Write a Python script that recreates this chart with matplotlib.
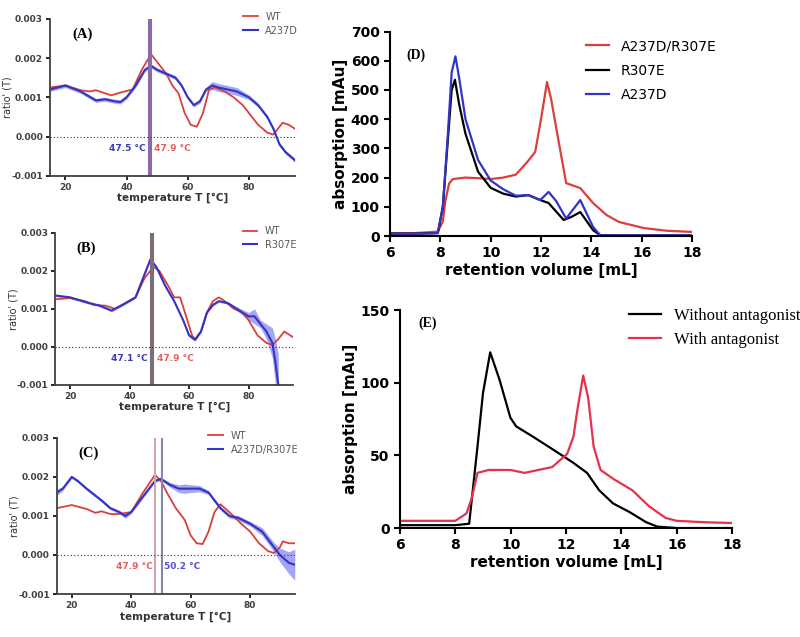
import matplotlib
matplotlib.use("Agg")
import matplotlib.pyplot as plt

# ---- thermal unfolding (ratio' vs temperature) ----
# panel A: WT vs A237D
a_wt_t = [15, 20, 25, 28, 30, 35, 38, 42, 45, 48, 50, 53, 55, 57, 59, 61, 63, 65, 67, 69, 72, 75, 78, 80, 83, 86, 88, 90, 91, 93, 95]
a_wt_r = [0.00125, 0.0013, 0.00118, 0.00115, 0.00118, 0.00105, 0.00112, 0.0012, 0.0017, 0.0021, 0.0019, 0.0016, 0.0013, 0.0011,
          0.0006, 0.0003, 0.00025, 0.0006, 0.0012, 0.00125, 0.00115, 0.001, 0.0008, 0.0006, 0.0003, 0.0001, 0.00005, 0.00025,
          0.00035, 0.0003, 0.0002]
a_mut_t = [15, 20, 25, 30, 33, 36, 38, 40, 43, 46, 48, 50, 53, 56, 58, 60, 62, 64, 66, 68, 70, 73, 76, 80, 83, 86, 88, 90, 92, 95]
a_mut_r = [0.0012, 0.0013, 0.00115, 0.00092, 0.00095, 0.0009, 0.00088, 0.001, 0.0013, 0.0017, 0.0018, 0.0017, 0.0016, 0.0015,
           0.0013, 0.001, 0.0008, 0.0009, 0.0012, 0.0013, 0.00125, 0.0012, 0.00115, 0.001, 0.0008, 0.0005, 0.0002, -0.0002,
           -0.0004, -0.0006]
a_mut_err = [0.00005] * 19 + [0.0001, 0.0001, 0.0001, 0.0001, 0.00006, 0.00005, 0.00005, 0.00005, 0.00005, 0.00005, 0.00005]

# panel B: WT vs R307E
b_wt_t = [15, 20, 25, 28, 32, 35, 38, 42, 45, 48, 50, 53, 55, 57, 59, 61, 62, 64, 66, 68, 70, 72, 75, 78, 80, 83, 86, 88, 90, 92, 95]
b_wt_r = [0.00125, 0.00128, 0.0012, 0.0011, 0.00108, 0.001, 0.00112, 0.0013, 0.0018, 0.0021, 0.002, 0.0016, 0.0013, 0.0013,
          0.0008, 0.0003, 0.0002, 0.0004, 0.0009, 0.0012, 0.0013, 0.0012, 0.001, 0.0009, 0.0007, 0.0003, 0.0001, 0.00005,
          0.0002, 0.0004, 0.00025]
b_mut_t = [15, 20, 25, 30, 34, 38, 42, 45, 47, 49, 52, 55, 58, 60, 62, 64, 66, 68, 70, 73, 76, 80, 82, 84, 86, 88, 89, 90]
b_mut_r = [0.00135, 0.0013, 0.00118, 0.00108, 0.00095, 0.00112, 0.0013, 0.0019, 0.0023, 0.0021, 0.0016, 0.0012, 0.0007,
           0.0003, 0.00018, 0.0004, 0.0009, 0.0011, 0.0012, 0.00115, 0.001, 0.0008, 0.0008, 0.0006, 0.0004, 0.0001,
           -0.0004, -0.001]
b_mut_err = [0.00003] * 20 + [0.00005, 0.0001, 0.0002, 0.0001, 0.0002, 0.0004, 0.0006, 0.0008]

# panel C: WT vs A237D/R307E
c_wt_t = [15, 20, 25, 28, 30, 33, 36, 40, 44, 48, 50, 52, 55, 58, 60, 62, 64, 66, 68, 70, 73, 77, 80, 83, 86, 88, 90, 91, 93, 95]
c_wt_r = [0.0012, 0.00128, 0.00118, 0.00108, 0.00112, 0.00105, 0.00105, 0.0011, 0.0016, 0.00205, 0.0019, 0.0016, 0.0012,
          0.0009, 0.0005, 0.0003, 0.00028, 0.0006, 0.0011, 0.0013, 0.0011, 0.0008, 0.0006, 0.0003, 0.0001, 0.00005, 0.0002,
          0.00035, 0.0003, 0.0003]
c_mut_t = [15, 17, 20, 22, 25, 30, 33, 36, 38, 40, 43, 46, 48, 50, 53, 56, 58, 60, 63, 66, 70, 73, 76, 80, 84, 88, 90, 93, 95]
c_mut_r = [0.0016, 0.0017, 0.002, 0.0019, 0.0017, 0.0014, 0.0012, 0.0011, 0.001, 0.0011, 0.0014, 0.0017, 0.0019, 0.00195,
           0.0018, 0.0017, 0.0017, 0.0017, 0.0017, 0.0016, 0.0012, 0.001, 0.00095, 0.0008, 0.0006, 0.0002, 0.0, -0.0002,
           -0.00025]
c_mut_err = [0.00008, 0.00005, 0.00004, 0.00004, 0.00004, 0.00004, 0.00004, 0.00004, 0.00006, 0.00004, 0.00004, 0.00004,
             0.00004, 0.00004, 0.00006, 0.0001, 0.00012, 0.0001, 0.00008, 0.00005, 0.00005, 0.00005, 0.00006, 0.00006,
             0.0001, 0.00012, 0.00018, 0.00028, 0.0004]

thermo_panels = [
    ("(A)", "A237D", a_wt_t, a_wt_r, a_mut_t, a_mut_r, a_mut_err, [47.5, 47.9], ["#8a6aa8", "#8a6aa8"], "47.5 °C", "47.9 °C"),
    ("(B)", "R307E", b_wt_t, b_wt_r, b_mut_t, b_mut_r, b_mut_err, [47.1, 47.9], ["#7d6d7a", "#7d6d7a"], "47.1 °C", "47.9 °C"),
    ("(C)", "A237D/R307E", c_wt_t, c_wt_r, c_mut_t, c_mut_r, c_mut_err, [47.9, 50.2], ["#d2a4a8", "#8486a8"], "50.2 °C", "47.9 °C"),
]

# ---- size exclusion chromatograms ----
d_vol_dr = [6, 7, 7.9, 8.1, 8.2, 8.35, 8.5, 9, 9.5, 10, 10.5, 11, 11.45, 11.77, 12.0, 12.24, 12.4, 12.64, 13.0, 13.56, 14.07,
            14.6, 15.1, 16.1, 17, 18]
d_abs_dr = [10, 10, 15, 50, 120, 180, 195, 200, 198, 195, 200, 210, 253, 288, 400, 527, 470, 353, 181, 164, 113, 72, 48, 27,
            18, 14]
d_vol_r = [6, 7, 7.9, 8.1, 8.3, 8.45, 8.58, 8.75, 9.0, 9.5, 10, 10.5, 11, 11.5, 11.97, 12.3, 12.9, 13.2, 13.56, 14.07, 14.35,
           15, 18]
d_abs_r = [8, 8, 10, 100, 330, 500, 535, 450, 350, 220, 165, 145, 135, 140, 123, 113, 55, 65, 82, 20, 3, 2, 2]
d_vol_a = [6, 7, 7.9, 8.1, 8.3, 8.45, 8.6, 8.75, 9.0, 9.5, 10, 10.5, 11, 11.5, 11.97, 12.3, 12.6, 13.0, 13.56, 14.07, 14.35,
           15, 18]
d_abs_a = [8, 8, 10, 100, 350, 560, 615, 540, 400, 260, 190, 160, 138, 140, 123, 151, 120, 60, 123, 31, 3, 2, 2]

e_vol_free = [6, 8, 8.5, 8.8, 9.0, 9.26, 9.6, 9.99, 10.2, 10.8, 11.7, 12.26, 12.76, 13.2, 13.7, 14.3, 14.9, 15.3, 16, 18]
e_abs_free = [2, 2, 3, 56, 93, 121, 102, 76, 70, 63, 52, 45, 38, 26, 17, 11, 4, 1, 0, 0]
e_vol_ant = [6, 8, 8.4, 8.6, 8.8, 9.2, 10, 10.5, 11, 11.5, 12.04, 12.27, 12.4, 12.62, 12.8, 13.0, 13.25, 13.7, 14.4, 15,
             15.6, 16, 17, 18]
e_abs_ant = [5, 5, 10, 21, 38, 40, 40, 38, 40, 42, 51, 63, 80, 105, 90, 56, 40, 34, 26, 15, 7, 5, 4, 3.5]

RED = "#d9403c"
BLUE = "#3434c4"

fig = plt.figure(figsize=(8, 6.37), dpi=100)

thermo_rects = [
    [0.0625, 0.724, 0.306, 0.2465],
    [0.069, 0.396, 0.2975, 0.2386],
    [0.071, 0.0675, 0.2975, 0.245],
]

for rect, (tag, mut, wt_t, wt_r, mt, mr, merr, vlines, vcols, t_blue, t_red) in zip(thermo_rects, thermo_panels):
    ax = fig.add_axes(rect)
    lo = [r - e for r, e in zip(mr, merr)]
    hi = [r + e for r, e in zip(mr, merr)]
    ax.fill_between(mt, lo, hi, color="#6a6af0", alpha=0.6, lw=0)
    ax.plot(wt_t, wt_r, color=RED, lw=1.3, label="WT", solid_joinstyle="round")
    ax.plot(mt, mr, color=BLUE, lw=1.5, label=mut, solid_joinstyle="round")
    for v, c in zip(vlines, vcols):
        ax.axvline(v, color=c, lw=1.5)
    ax.axhline(0, color="0.2", lw=0.8, ls=(0, (1, 2)))
    if tag == "(C)":
        ax.text(47.3, -0.0003, t_red, color="#e06060", fontsize=6.5, fontweight="bold", ha="right", va="center")
        ax.text(51.2, -0.0003, t_blue, color="#5050d0", fontsize=6.5, fontweight="bold", ha="left", va="center")
    else:
        ax.text(min(vlines) - 1.2, -0.0003, t_blue, color="#3a3ab8", fontsize=6.5, fontweight="bold", ha="right", va="center")
        ax.text(max(vlines) + 1.2, -0.0003, t_red, color="#e06060", fontsize=6.5, fontweight="bold", ha="left", va="center")
    ax.text(0.09, 0.9, tag, transform=ax.transAxes, fontsize=10.5, fontweight="bold", family="Liberation Serif",
            va="center")
    ax.set_xlim(15, 95)
    ax.set_ylim(-0.001, 0.003)
    ax.set_xticks([20, 40, 60, 80])
    ax.set_yticks([-0.001, 0.0, 0.001, 0.002, 0.003])
    ax.set_yticklabels(["-0.001", "0.000", "0.001", "0.002", "0.003"])
    ax.tick_params(labelsize=6.5, width=1.2, length=3, pad=2)
    for lab in ax.get_xticklabels() + ax.get_yticklabels():
        lab.set_fontweight("bold")
        lab.set_color("0.25")
    ax.set_xlabel("temperature T [°C]", fontsize=7.5, fontweight="bold", labelpad=1, color="0.2")
    ax.set_ylabel("ratio' (T)", fontsize=7, color="0.2")
    ax.yaxis.set_label_coords(-0.155, 0.5)
    for side in ("top", "right"):
        ax.spines[side].set_visible(False)
    for side in ("left", "bottom"):
        ax.spines[side].set_linewidth(1.3)
        ax.spines[side].set_color("0.25")
    ax.legend(loc="upper right", bbox_to_anchor=(1.03, 1.07), frameon=False, fontsize=7, handlelength=1.5,
              labelcolor="0.35", borderaxespad=0, labelspacing=0.4)

# panel D
axd = fig.add_axes([0.4875, 0.6295, 0.3775, 0.321])
axd.plot(d_vol_dr, d_abs_dr, color=RED, lw=1.6, label="A237D/R307E", solid_joinstyle="round")
axd.plot(d_vol_r, d_abs_r, color="black", lw=1.6, label="R307E", solid_joinstyle="round")
axd.plot(d_vol_a, d_abs_a, color=BLUE, lw=1.6, label="A237D", solid_joinstyle="round")
axd.set_xlim(6, 18)
axd.set_ylim(0, 700)
axd.set_xticks(range(6, 19, 2))
axd.set_yticks(range(0, 701, 100))
axd.set_xlabel("retention volume [mL]", fontsize=11, fontweight="bold", labelpad=2)
axd.set_ylabel("absorption [mAu]", fontsize=11, fontweight="bold", labelpad=2)
axd.text(0.055, 0.885, "(D)", transform=axd.transAxes, fontsize=10, fontweight="bold", family="Liberation Serif",
         va="center")
axd.legend(loc="upper left", bbox_to_anchor=(0.63, 0.99), frameon=False, fontsize=10, handlelength=1.7,
           borderaxespad=0, labelspacing=0.75)

# panel E
axe = fig.add_axes([0.5, 0.171, 0.415, 0.342])
axe.plot(e_vol_free, e_abs_free, color="black", lw=1.6, label="Without antagonist", solid_joinstyle="round")
axe.plot(e_vol_ant, e_abs_ant, color="#e8304a", lw=1.6, label="With antagonist", solid_joinstyle="round")
axe.set_xlim(6, 18)
axe.set_ylim(0, 150)
axe.set_xticks(range(6, 19, 2))
axe.set_yticks([0, 50, 100, 150])
axe.set_xlabel("retention volume [mL]", fontsize=11, fontweight="bold", labelpad=2)
axe.set_ylabel("absorption [mAu]", fontsize=11, fontweight="bold", labelpad=2)
axe.text(0.055, 0.94, "(E)", transform=axe.transAxes, fontsize=10, fontweight="bold", family="Liberation Serif",
         va="center")
axe.legend(loc="upper left", bbox_to_anchor=(0.67, 1.04), frameon=False, handlelength=1.9,
           borderaxespad=0, labelspacing=0.45, prop={"family": "Liberation Serif", "size": 12})

for ax in (axd, axe):
    ax.tick_params(labelsize=10, width=1.5, length=4)
    for lab in ax.get_xticklabels() + ax.get_yticklabels():
        lab.set_fontweight("bold")
    for side in ("top", "right"):
        ax.spines[side].set_visible(False)
    for side in ("left", "bottom"):
        ax.spines[side].set_linewidth(1.5)

fig.savefig("out.png", dpi=100)
